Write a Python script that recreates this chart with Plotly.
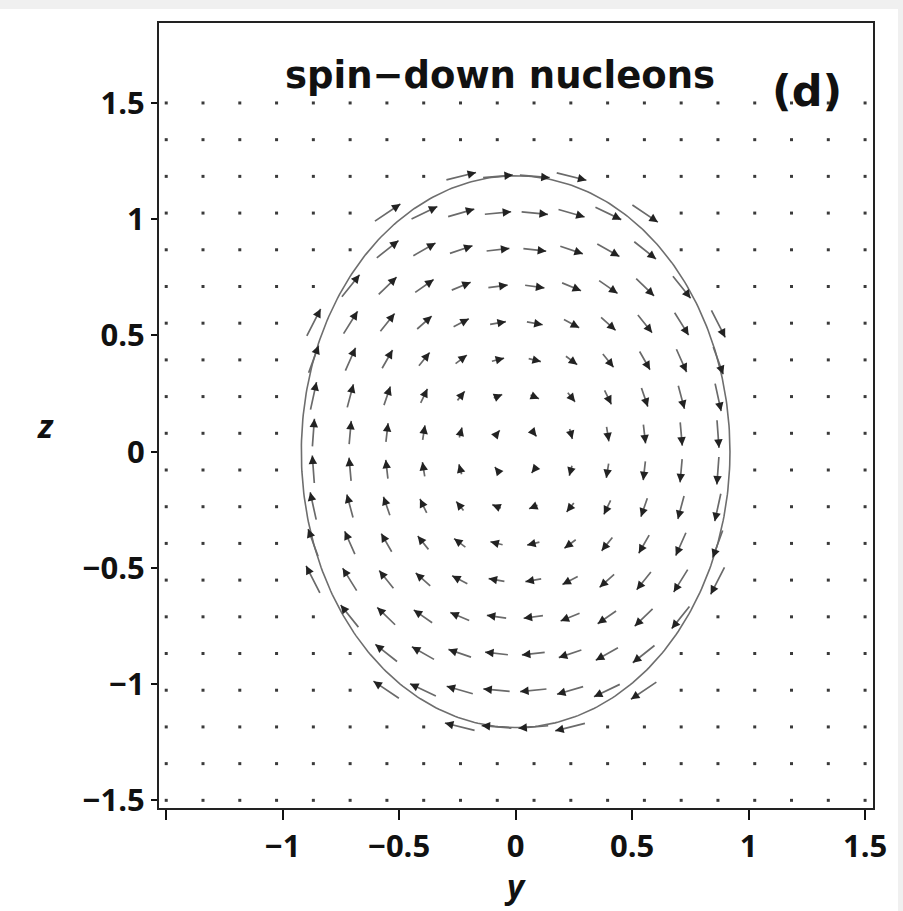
import numpy as np
import plotly.graph_objects as go

# ---- values ----
grid_min, grid_max, grid_n = -1.5, 1.5, 20          # field-plot sample grid (y and z)
semi_axis_y = 0.92                                   # nuclear surface ellipse, y semi-axis
semi_axis_z = 1.187                                  # nuclear surface ellipse, z semi-axis
flow_cutoff = 1.12                                   # field vanishes for (y/a)^2+(z/b)^2 above this
flow_coef_y = 1.0                                    # v_y = coef_y * z
flow_coef_z = 1.25                                   # v_z = -coef_z * y
arrow_scale = 0.095                                  # arrow length per unit |v| (data units)
arrow_base = 0.022                                   # minimum drawn arrow length (data units)
head_len = 0.03                                      # arrow-head segment length (data units)
x_ticks = [-1.5, -1, -0.5, 0, 0.5, 1, 1.5]
x_ticktext = ["", "\u22121", "\u22120.5", "0", "0.5", "1", "1.5"]
z_ticks = [-1.5, -1, -0.5, 0, 0.5, 1, 1.5]
z_ticktext = ["\u22121.5", "\u22121", "\u22120.5", "0", "0.5", "1", "1.5"]
title_text = "spin\u2212down nucleons"
panel_text = "(d)"
x_title = "<i>y</i>"
y_title = "<i>z</i>"

grid = np.linspace(grid_min, grid_max, grid_n)
Y, Z = np.meshgrid(grid, grid)
Y = Y.ravel(); Z = Z.ravel()
S = (Y / semi_axis_y) ** 2 + (Z / semi_axis_z) ** 2
inside = S < flow_cutoff
VY = np.where(inside, flow_coef_y * Z, 0.0)
VZ = np.where(inside, -flow_coef_z * Y, 0.0)

fig = go.Figure()

# dots where the field is zero
fig.add_trace(go.Scatter(x=Y[~inside], y=Z[~inside], mode="markers",
                         marker=dict(size=3, color="#3a3a3a", symbol="square"),
                         hoverinfo="skip", showlegend=False))

# ellipse (nuclear surface)
t = np.linspace(0, 2 * np.pi, 400)
fig.add_trace(go.Scatter(x=semi_axis_y * np.cos(t), y=semi_axis_z * np.sin(t), mode="lines",
                         line=dict(color="#6e6e6e", width=1.6),
                         hoverinfo="skip", showlegend=False))

annotations = []
for yy, zz, vy, vz in zip(Y[inside], Z[inside], VY[inside], VZ[inside]):
    mag = np.hypot(vy, vz)
    L = arrow_base + arrow_scale * mag
    uy, uz = vy / mag, vz / mag
    hy, hz = yy + uy * L / 2, zz + uz * L / 2      # tip
    ty, tz = yy - uy * L / 2, zz - uz * L / 2      # tail
    # grey shaft
    annotations.append(dict(x=hy, y=hz, ax=ty, ay=tz,
                            xref="x", yref="y", axref="x", ayref="y", text="",
                            showarrow=True, arrowhead=0, arrowwidth=1.7,
                            arrowcolor="#6a6a6a", standoff=0, startstandoff=0))
    # dark head
    hl = min(head_len, L)
    annotations.append(dict(x=hy, y=hz, ax=hy - uy * hl, ay=hz - uz * hl,
                            xref="x", yref="y", axref="x", ayref="y", text="",
                            showarrow=True, arrowhead=2, arrowsize=1.0, arrowwidth=1.7,
                            arrowcolor="#222222", standoff=0, startstandoff=0))

annotations.append(dict(x=-0.068, y=1.62, xref="x", yref="y", text=title_text, showarrow=False,
                        xanchor="center", yanchor="middle",
                        font=dict(family="DejaVu Sans", size=37, color="#111", weight=700)))
annotations.append(dict(x=1.25, y=1.55, xref="x", yref="y", text=panel_text, showarrow=False,
                        xanchor="center", yanchor="middle",
                        font=dict(family="DejaVu Sans", size=43, color="#111", weight=700)))
annotations.append(dict(x=(515 - 159) / 714, y=(808 - 885) / 785, xref="paper", yref="paper",
                        text=x_title, showarrow=False, xanchor="center", yanchor="middle",
                        font=dict(family="Open Sans", size=33, color="#111", weight=700)))
annotations.append(dict(x=(45 - 159) / 714, y=(808 - 425) / 785, xref="paper", yref="paper",
                        text=y_title, showarrow=False, xanchor="center", yanchor="middle",
                        font=dict(family="Open Sans", size=33, color="#111", weight=700)))
fig.layout.annotations = annotations

# light grey border strips of the original screenshot
fig.add_shape(type="rect", xref="paper", yref="paper", x0=-0.23, x1=1.05,
              y0=(808 - 9) / 785, y1=(808 + 1) / 785, fillcolor="#f0f0f0", line_width=0)
fig.add_shape(type="rect", xref="paper", yref="paper", x0=(898 - 159) / 714, x1=1.05,
              y0=-0.14, y1=(808 + 1) / 785, fillcolor="#f0f0f0", line_width=0)

tickfont = dict(family="Open Sans", size=31, color="#111", weight=700)
fig.update_xaxes(range=[-1.531, 1.534], tickvals=x_ticks, ticktext=x_ticktext,
                 ticks="outside", ticklen=10, tickwidth=1.5, tickcolor="#111",
                 showline=True, linecolor="#222", linewidth=2, mirror=True,
                 showgrid=False, zeroline=False, tickfont=tickfont)
fig.update_yaxes(range=[-1.533, 1.844], tickvals=z_ticks, ticktext=z_ticktext,
                 ticks="outside", ticklen=6, tickwidth=1.5, tickcolor="#111",
                 showline=True, linecolor="#222", linewidth=2, mirror=True,
                 showgrid=False, zeroline=False, tickfont=tickfont)

fig.update_layout(width=903, height=911, margin=dict(l=159, r=30, t=23, b=103),
                  paper_bgcolor="white", plot_bgcolor="white", showlegend=False)

fig.write_html("out.html")
